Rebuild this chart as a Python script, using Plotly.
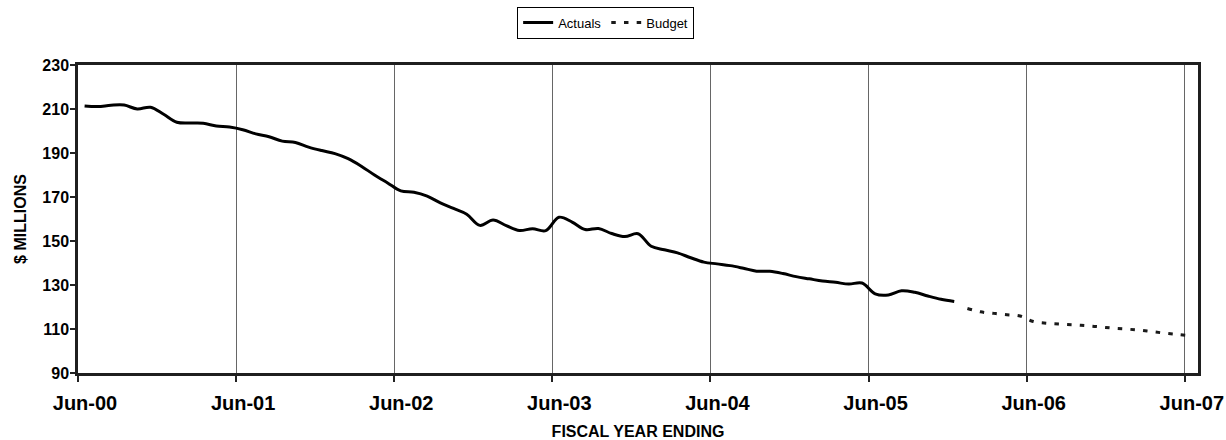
import plotly.graph_objects as go

# Monthly categories Jun-00 .. Jun-07 (85 slots); each value sits at the centre of its month slot
year_labels = ["Jun-00", "Jun-01", "Jun-02", "Jun-03", "Jun-04", "Jun-05", "Jun-06", "Jun-07"]

# Actuals, Jun-00 .. Dec-05 ($ millions)
actuals = [
    211.4, 211.1, 211.7, 211.8, 210.0, 210.8, 207.6, 204.0, 203.6, 203.5, 202.3, 201.8,
    200.6, 198.7, 197.4, 195.4, 194.8, 192.7, 191.1, 189.7, 187.4, 184.0, 180.0, 176.4,
    172.8, 172.2, 170.4, 167.3, 164.8, 162.2, 157.1, 159.5, 157.0, 154.8, 155.6, 154.7,
    160.8, 158.6, 155.2, 155.7, 153.4, 152.0, 153.3, 147.6, 146.0, 144.6, 142.4, 140.4,
    139.6, 138.8, 137.6, 136.3, 136.2, 135.2, 133.8, 132.8, 131.8, 131.2, 130.4, 130.9,
    126.0, 125.5, 127.4, 126.7, 125.0, 123.5, 122.5,
]

# Budget, Jan-06 .. Jun-07 ($ millions)
budget = [
    119.3, 117.8, 117.1, 116.5, 115.9, 113.4, 112.6, 112.2, 111.9,
    111.5, 111.0, 110.4, 110.0, 109.5, 108.8, 108.1, 107.5, 106.9,
]

y_ticks = [90, 110, 130, 150, 170, 190, 210, 230]

n_months = 85
x_actuals = [i + 0.5 for i in range(len(actuals))]
x_budget = [len(actuals) + i + 0.5 for i in range(len(budget))]

FONT = "Arial, Liberation Sans, Helvetica, sans-serif"

fig = go.Figure()
fig.add_trace(go.Scatter(
    x=x_actuals, y=actuals, name="Actuals", mode="lines",
    line=dict(color="#000000", width=3, shape="spline"),
))
fig.add_trace(go.Scatter(
    x=x_budget, y=budget, name="Budget", mode="lines",
    line=dict(color="#1a1a1a", width=3, shape="spline", dash="4.5px,8.2px"),
))

fig.update_layout(
    width=1226, height=440,
    margin=dict(l=78, r=28, t=65, b=67),
    paper_bgcolor="#ffffff", plot_bgcolor="#ffffff",
    font=dict(family=FONT, color="#000000"),
    showlegend=True,
    legend=dict(
        orientation="h",
        xref="container", yref="container",
        x=0.494, xanchor="center", y=0.985, yanchor="top",
        bordercolor="#000000", borderwidth=1,
        font=dict(family=FONT, size=13, color="#000000"),
        itemwidth=30, tracegroupgap=0,
    ),
    xaxis=dict(
        range=[0, n_months],
        automargin=False,
        tickmode="array",
        tickvals=[12 * i for i in range(len(year_labels))],
        ticktext=year_labels,
        ticklabelshift=7,
        ticklabelstandoff=4,
        ticks="outside", ticklen=6, tickwidth=1.5, tickcolor="#222222",
        tickfont=dict(family=FONT, size=20, color="#000000", weight="bold"),
        showgrid=True, gridcolor="#666666", gridwidth=1,
        zeroline=False,
        showline=True, linecolor="#1f1f1f", linewidth=2.5, mirror=True,
        title=dict(text="<b>FISCAL YEAR ENDING</b>",
                   font=dict(family=FONT, size=16, color="#000000"),
                   standoff=17),
    ),
    yaxis=dict(
        range=[90, 230],
        automargin=False,
        tickmode="array", tickvals=y_ticks,
        ticks="outside", ticklen=5, tickwidth=1.5, tickcolor="#222222",
        ticklabelstandoff=-2,
        tickfont=dict(family=FONT, size=16, color="#000000", weight="bold"),
        showgrid=False, zeroline=False,
        showline=True, linecolor="#1f1f1f", linewidth=2.5, mirror=True,
        title=dict(text="<b>$ MILLIONS</b>",
                   font=dict(family=FONT, size=16, color="#000000"),
                   standoff=12),
    ),
)

fig.write_html("out.html")
